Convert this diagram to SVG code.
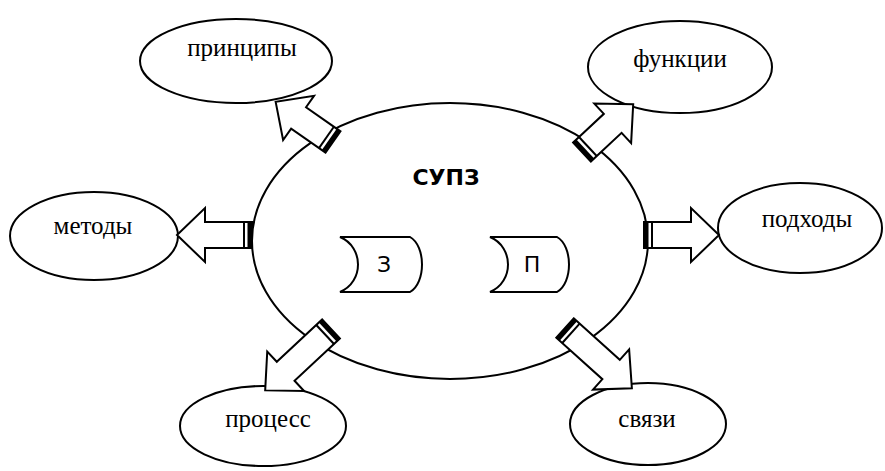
<svg xmlns="http://www.w3.org/2000/svg" width="885" height="471" viewBox="0 0 885 471">
<style>
.el{fill:#fff;stroke:#000;stroke-width:2}
.lbl{font-family:"Liberation Serif","Times New Roman",serif;font-size:25px;fill:#000;text-anchor:middle}
.arr{fill:#fff;stroke:#000;stroke-width:2;stroke-linejoin:miter}
.drum{fill:#fff;stroke:#000;stroke-width:2}
.dt{font-family:"DejaVu Sans",sans-serif;font-size:22px;fill:#000;text-anchor:middle}
</style>
<defs>
<g id="bars"><rect x="0" y="-13" width="4.5" height="26" fill="#000"/><line x1="8" y1="-13" x2="8" y2="13" stroke="#000" stroke-width="2"/></g>
</defs>
<rect width="885" height="471" fill="#fff"/>
<g id="center">
<ellipse class="el" cx="450" cy="241" rx="198" ry="138"/>
<text x="446" y="185" font-family="DejaVu Sans, sans-serif" font-weight="bold" font-size="22" text-anchor="middle">СУПЗ</text>
</g>
<g id="drum-z">
<path class="drum" d="M340,237 H410 C426,246 426,283 410,292 H340 C364,282 364,247 340,237 Z"/>
<text class="dt" x="384" y="272">З</text>
</g>
<g id="drum-p">
<path class="drum" d="M490,237 H557 C573,246 573,283 557,292 H490 C514,282 514,247 490,237 Z"/>
<text class="dt" x="532" y="272">П</text>
</g>
<g id="principy">
<ellipse class="el" cx="236" cy="61" rx="96" ry="42"/>
<text class="lbl" x="242" y="56">принципы</text>
</g>
<g id="funkcii">
<ellipse class="el" cx="680" cy="67" rx="92" ry="46"/>
<text class="lbl" x="680" y="67">функции</text>
</g>
<g id="metody">
<ellipse class="el" cx="94" cy="236" rx="84" ry="44"/>
<text class="lbl" x="93" y="234">методы</text>
</g>
<g id="podhody">
<ellipse class="el" cx="800" cy="228" rx="82" ry="45"/>
<text class="lbl" x="807" y="227">подходы</text>
</g>
<g id="process">
<ellipse class="el" cx="263" cy="426" rx="83" ry="40"/>
<text class="lbl" x="268" y="427">процесс</text>
</g>
<g id="svyazi">
<ellipse class="el" cx="648" cy="424" rx="78" ry="41"/>
<text class="lbl" x="647" y="427">связи</text>
</g>
<g id="connectors">
<g transform="translate(252,235) rotate(180)"><polygon class="arr" points="0,-13 47,-13 47,-27 75,0 47,27 47,13 0,13"/><use href="#bars"/></g>
<g transform="translate(644,235)"><polygon class="arr" points="0,-13 47,-13 47,-27 75,0 47,27 47,13 0,13"/><use href="#bars"/></g>
<g transform="translate(333,142) rotate(215)"><polygon class="arr" points="0,-13 42,-13 42,-27 70,0 42,27 42,13 0,13"/><use href="#bars"/></g>
<g transform="translate(582,152) rotate(-43)"><polygon class="arr" points="0,-13 42,-13 42,-27 70,0 42,27 42,13 0,13"/><use href="#bars"/></g>
<g transform="translate(331,329) rotate(137)"><polygon class="arr" points="0,-13 62,-13 62,-27 90,0 62,27 62,13 0,13"/><use href="#bars"/></g>
<g transform="translate(565,328) rotate(42)"><polygon class="arr" points="0,-13 62,-13 62,-27 90,0 62,27 62,13 0,13"/><use href="#bars"/></g>
</g>
</svg>
